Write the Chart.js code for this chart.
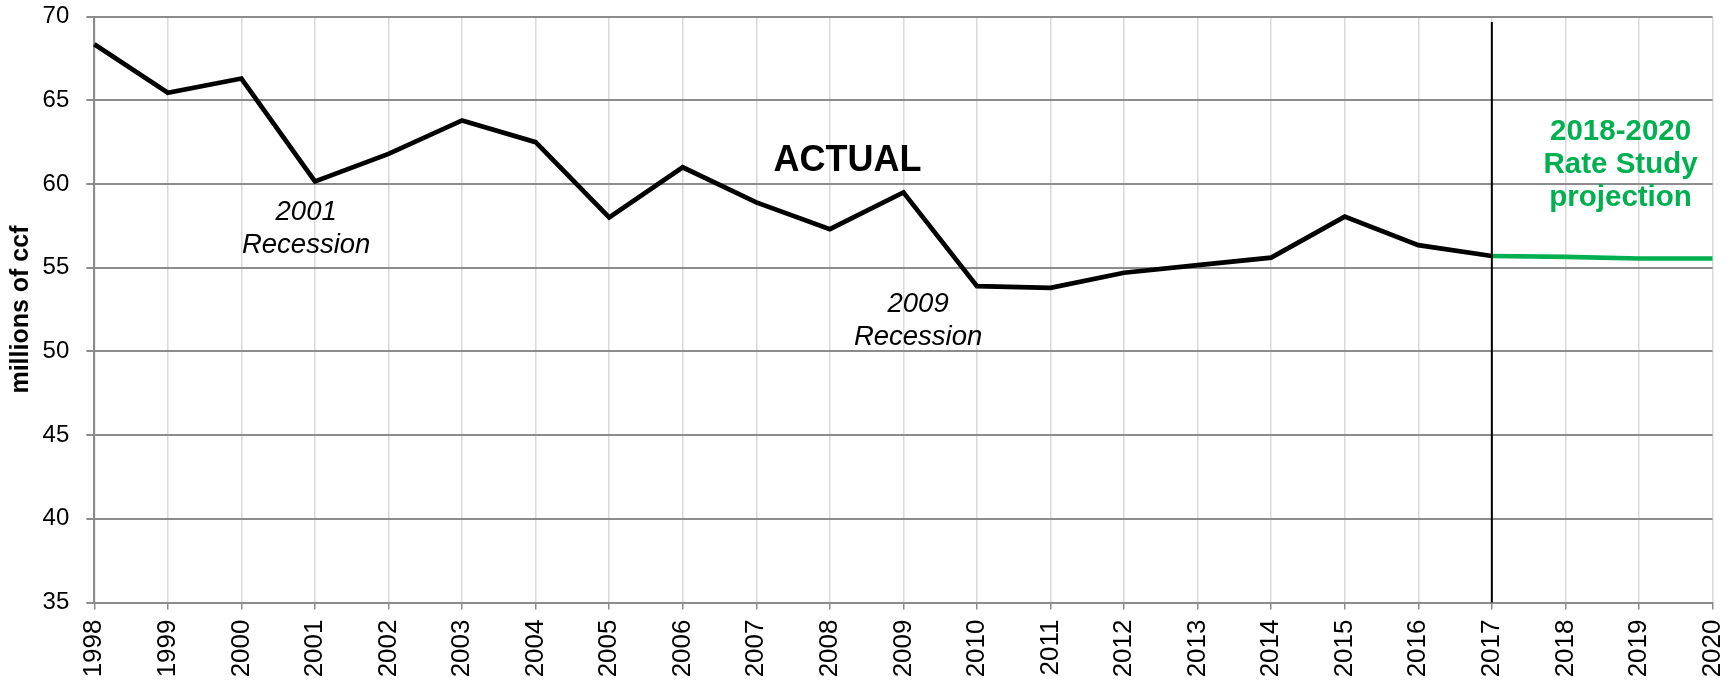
<!DOCTYPE html>
<html>
<head>
<meta charset="utf-8">
<script src="https://cdn.jsdelivr.net/npm/chart.js@4"></script>
<style>
    body { margin: 0; background: #ffffff; }
    #wrap { width: 1736px; height: 681px; }
</style>
</head>
<body>
<div id="wrap"><canvas id="canvas_consumo" width="1736" height="681"></canvas></div>
<script>
const anos = ['1998', '1999', '2000', '2001', '2002', '2003', '2004', '2005', '2006', '2007', '2008',
    '2009', '2010', '2011', '2012', '2013', '2014', '2015', '2016', '2017', '2018', '2019', '2020'];

// millions of ccf, actual 1998-2017
const valoresReais = [68.35, 65.45, 66.3, 60.15, 61.8, 63.8, 62.5, 58.0, 61.0, 58.9, 57.3,
    59.5, 53.9, 53.8, 54.7, 55.15, 55.6, 58.05, 56.35, 55.7, null, null, null];

// rate study projection 2017-2020
const valoresProjecao = [null, null, null, null, null, null, null, null, null, null, null,
    null, null, null, null, null, null, null, null, 55.7, 55.65, 55.55, 55.55];

const ticksY = [35, 40, 45, 50, 55, 60, 65, 70];

const anoDivisao = '2017';

// texto, posicao em unidades do grafico (indice do ano, valor)
const anotacoes = [
    { linhas: ['ACTUAL'], x: 10.24, y: 61.35, fonte: 'bold 36px "Liberation Sans", Arial', cor: '#000000', passo: 0 },
    { linhas: ['2001', 'Recession'], x: 2.88, y: 58.33, fonte: 'italic 27.5px "Liberation Sans", Arial', cor: '#000000', passo: 33 },
    { linhas: ['2009', 'Recession'], x: 11.2, y: 52.8, fonte: 'italic 27.5px "Liberation Sans", Arial', cor: '#000000', passo: 33 },
    { linhas: ['2018-2020', 'Rate Study', 'projection'], x: 20.75, y: 63.12, fonte: 'bold 29.5px "Liberation Sans", Arial', cor: '#00b050', passo: 33 },
];

const pluginExtras = {
    id: 'extras',
    afterDatasetsDraw(chart) {
        const ctx = chart.ctx;
        const x = chart.scales.x;
        const y = chart.scales.y;

        // linha vertical em 2017
        const px = x.getPixelForValue(anos.indexOf(anoDivisao));
        ctx.save();
        ctx.strokeStyle = '#000000';
        ctx.lineWidth = 2;
        ctx.beginPath();
        ctx.moveTo(px, y.getPixelForValue(69.68));
        ctx.lineTo(px, chart.chartArea.bottom);
        ctx.stroke();

        ctx.textAlign = 'center';
        ctx.textBaseline = 'middle';
        for (let i = 0; i < anotacoes.length; i++) {
            let a = anotacoes[i];
            ctx.font = a.fonte;
            ctx.fillStyle = a.cor;
            let cx = x.getPixelForValue(a.x);
            let cy = y.getPixelForValue(a.y);
            for (let j = 0; j < a.linhas.length; j++) {
                ctx.fillText(a.linhas[j], cx, cy + j * a.passo);
            }
        }
        ctx.restore();
    }
};

new Chart(document.getElementById('canvas_consumo'), {
    type: 'line',
    data: {
        labels: anos,
        datasets: [{
            label: 'Projection',
            data: valoresProjecao,
            borderColor: '#00b050',
            borderWidth: 4.7,
            pointRadius: 0,
            tension: 0,
        }, {
            label: 'Actual',
            data: valoresReais,
            borderColor: '#000000',
            borderWidth: 4.7,
            pointRadius: 0,
            tension: 0,
        }],
    },
    options: {
        responsive: false,
        animation: false,
        layout: {
            padding: { left: 0, right: 23.5, top: 16.6, bottom: 0 },
        },
        plugins: {
            legend: { display: false },
            tooltip: { enabled: false },
        },
        scales: {
            x: {
                offset: false,
                afterFit(scale) {
                    scale.height = 78.5;
                    scale.paddingLeft = 0;
                    scale.paddingRight = 0;
                },
                grid: {
                    color: '#d9d9d9',
                    lineWidth: 1.5,
                    tickColor: '#8c8c8c',
                    tickLength: 7,
                    offset: false,
                },
                border: { color: '#8c8c8c', width: 2 },
                ticks: {
                    minRotation: 90,
                    maxRotation: 90,
                    autoSkip: false,
                    padding: 10,
                    color: '#000000',
                    font: { family: '"Liberation Sans", Arial', size: 26 },
                },
            },
            y: {
                min: 35,
                max: 70,
                afterBuildTicks(scale) {
                    scale.ticks = ticksY.map(v => ({ value: v }));
                },
                afterFit(scale) {
                    scale.width = 94.3;
                    scale.paddingTop = 0;
                    scale.paddingBottom = 0;
                },
                grid: {
                    color: '#8c8c8c',
                    lineWidth: 2,
                    tickLength: 8,
                },
                border: { color: '#8c8c8c', width: 2 },
                ticks: {
                    padding: 17,
                    color: '#000000',
                    font: { family: '"Liberation Sans", Arial', size: 24 },
                },
                title: {
                    display: true,
                    text: 'millions of ccf',
                    color: '#000000',
                    padding: { top: 6.5, bottom: 0 },
                    font: { family: '"Liberation Sans", Arial', size: 25, weight: 'bold' },
                },
            },
        },
    },
    plugins: [pluginExtras],
});
</script>
</body>
</html>
